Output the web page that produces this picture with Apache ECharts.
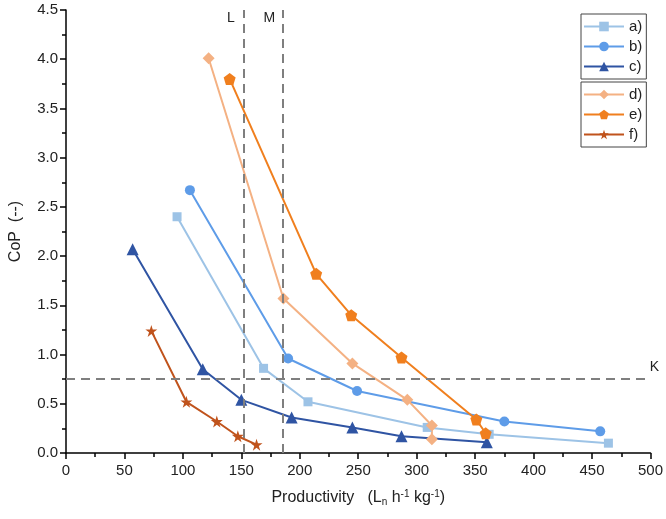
<!DOCTYPE html>
<html>
<head>
<meta charset="utf-8">
<script src="https://cdn.jsdelivr.net/npm/echarts@6/dist/echarts.min.js"></script>
<style>
  html, body { margin: 0; padding: 0; background: #fff; }
  #chart { width: 666px; height: 519px; }
</style>
</head>
<body>
<div id="chart"></div>
<script>
// data: [productivity, CoP]
var seriesA = [[95, 2.40], [169, 0.86], [207, 0.52], [309, 0.26], [362, 0.19], [464, 0.10]];
var seriesB = [[106, 2.67], [190, 0.96], [249, 0.63], [375, 0.32], [457, 0.22]];
var seriesC = [[57, 2.07], [117, 0.85], [150, 0.54], [193, 0.36], [245, 0.26], [287, 0.17], [360, 0.11]];
var seriesD = [[122, 4.01], [186, 1.57], [245, 0.91], [292, 0.54], [313, 0.28], [313, 0.14]];
var seriesE = [[140, 3.80], [214, 1.82], [244, 1.40], [287, 0.97], [351, 0.34], [359, 0.20]];
var seriesF = [[73, 1.24], [103, 0.52], [129, 0.32], [147, 0.17], [163, 0.085]];

var names = ['a)', 'b)', 'c)', 'd)', 'e)', 'f)'];
var colors = ['#9dc3e6', '#5e9ce8', '#2f54a3', '#f4b183', '#f07f1e', '#c0531c'];

var lineL = 152;  // vertical reference lines
var lineM = 185;
var lineK = 0.75; // horizontal reference line

var pentagon = 'path://M0,-1 L0.951,-0.309 L0.588,0.809 L-0.588,0.809 L-0.951,-0.309 Z';
var star = 'path://M0,-1 L0.225,-0.309 L0.951,-0.309 L0.363,0.118 L0.588,0.809 L0,0.382 L-0.588,0.809 L-0.363,0.118 L-0.951,-0.309 L-0.225,-0.309 Z';

function makeSeries(i, data, symbol, size) {
  return {
    name: names[i],
    type: 'line',
    data: data,
    symbol: symbol,
    symbolSize: size,
    showAllSymbol: true,
    lineStyle: { color: colors[i], width: 2 },
    itemStyle: { color: colors[i] },
    z: 3
  };
}

var series = [
  makeSeries(0, seriesA, 'rect', 9),
  makeSeries(1, seriesB, 'circle', 10),
  makeSeries(2, seriesC, 'triangle', 12),
  makeSeries(3, seriesD, 'diamond', 12),
  makeSeries(4, seriesE, pentagon, 12),
  makeSeries(5, seriesF, star, 12)
];

// reference lines with labels
series.push({
  type: 'line',
  data: [],
  silent: true,
  markLine: {
    symbol: 'none',
    silent: true,
    lineStyle: { color: '#7f7f7f', type: [9, 6], width: 2 },
    label: { show: false },
    data: [{ xAxis: lineL }, { xAxis: lineM }, { yAxis: lineK }]
  },
  markPoint: {
    symbol: 'circle',
    symbolSize: 0,
    silent: true,
    label: { show: true, color: '#222', fontSize: 14, fontFamily: 'Arial, Liberation Sans' },
    data: [
      { coord: [lineL - 11, 4.42], label: { formatter: 'L' } },
      { coord: [lineM - 11, 4.42], label: { formatter: 'M' } },
      { coord: [500, lineK + 0.12], label: { formatter: 'K', offset: [4, 0] } }
    ]
  }
});

var legendBase = {
  orient: 'vertical',
  left: 581,
  itemWidth: 40,
  itemHeight: 12,
  itemGap: 5,
  padding: [5, 4, 5, 2],
  borderColor: '#444',
  borderWidth: 1,
  textStyle: { fontSize: 15, color: '#222', fontFamily: 'Arial, Liberation Sans' }
};

var chart = echarts.init(document.getElementById('chart'));
chart.setOption({
  animation: false,
  backgroundColor: '#fff',
  grid: { left: 66, right: 13, top: 10, bottom: 66 },
  legend: [
    Object.assign({}, legendBase, { top: 14, data: names.slice(0, 3) }),
    Object.assign({}, legendBase, { top: 82, data: names.slice(3) })
  ],
  xAxis: {
    type: 'value',
    min: 0,
    max: 500,
    interval: 50,
    name: 'Productivity   (L{sub|n} h{sup|-1} kg{sup|-1})',
    nameLocation: 'middle',
    nameGap: 36,
    nameTextStyle: {
      fontSize: 16, color: '#222', fontFamily: 'Arial, Liberation Sans',
      rich: {
        sub: { fontSize: 10, verticalAlign: 'bottom', padding: [8, 0, 0, 0], color: '#222' },
        sup: { fontSize: 10, verticalAlign: 'top', padding: [0, 0, 8, 0], color: '#222' }
      }
    },
    axisLine: { lineStyle: { color: '#000', width: 1.5 } },
    axisTick: { length: 6, lineStyle: { color: '#000', width: 1.5 } },
    minorTick: { show: true, splitNumber: 2, length: 4, lineStyle: { color: '#000', width: 1.5 } },
    axisLabel: { fontSize: 15, color: '#222', margin: 10, fontFamily: 'Arial, Liberation Sans' },
    splitLine: { show: false }
  },
  yAxis: {
    type: 'value',
    min: 0,
    max: 4.5,
    interval: 0.5,
    name: 'CoP  (--)',
    nameLocation: 'middle',
    nameGap: 42,
    nameTextStyle: { fontSize: 16, color: '#222', fontFamily: 'Arial, Liberation Sans' },
    axisLine: { show: true, lineStyle: { color: '#000', width: 1.5 } },
    axisTick: { length: 6, lineStyle: { color: '#000', width: 1.5 } },
    minorTick: { show: true, splitNumber: 2, length: 4, lineStyle: { color: '#000', width: 1.5 } },
    axisLabel: {
      fontSize: 15, color: '#222', margin: 8, fontFamily: 'Arial, Liberation Sans',
      formatter: function (v) { return v.toFixed(1); }
    },
    splitLine: { show: false }
  },
  series: series
});
</script>
</body>
</html>
